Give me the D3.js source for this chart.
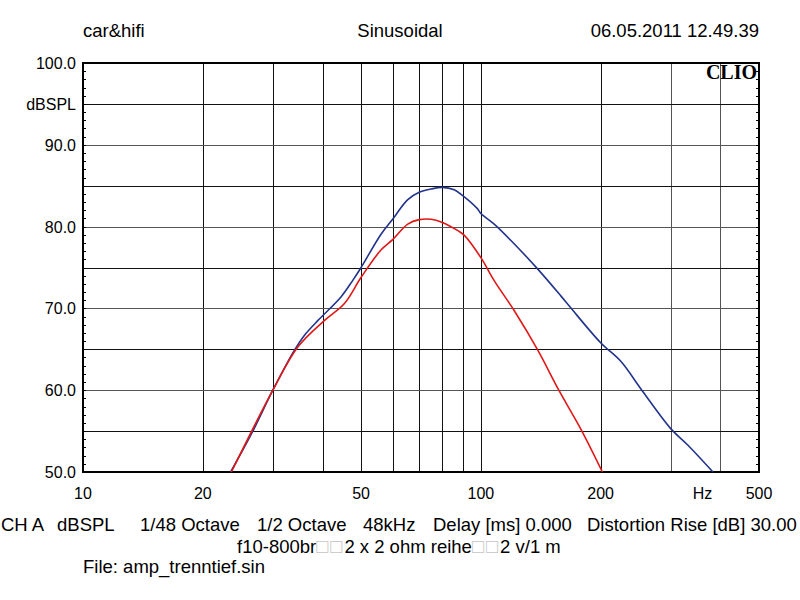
<!DOCTYPE html>
<html><head><meta charset="utf-8">
<script src="https://cdn.jsdelivr.net/npm/d3@7"></script>
<style>body{margin:0;background:#fff}svg{display:block}</style>
</head><body>
<script>
// ---- data ----
const blueFreq = [23.5,26.6,30,34,36,38.9,40,44.5,47.6,50,56,60,65.5,70,75,80,85.7,90,98,100,108,119,139,159,168,200,225,252,300,331,383];
const blueDb   = [50,54.8,60,64.9,66.7,68.5,69.1,71.4,73.4,75,79,80.9,83.3,84.2,84.6,84.8,84.5,83.8,82.2,81.6,80.3,78.3,74.8,71.5,70.1,65.8,63.5,60.2,55.3,53.3,50];
const redFreq  = [23.6,30,34.7,40.4,45.4,50,56,60,65.5,70,75,80,87.5,91,100,108,121,139,157,179,202];
const redDb    = [50,60,65.3,68.5,70.6,73.8,77.1,78.4,80.3,80.85,80.9,80.5,79.5,78.9,76.2,73.4,69.8,64.9,60,55.1,50];
const xGrid = [20,30,40,50,60,70,80,90,100,200,300,400];
const xTickVals = [10,20,50,100,200,500];
const xTickLabels = ["10","20","50","100","200","500"];
const yGrid = [55,60,65,70,75,80,85,90,95];
const yTickVals = [100,95,90,80,70,60,50];
const yTickLabels = ["100.0","dBSPL","90.0","80.0","70.0","60.0","50.0"];
const headerLeft = "car&hifi", headerMid = "Sinusoidal", headerRight = "06.05.2011 12.49.39";
const footer1 = ["CH A","dBSPL","1/48 Octave","1/2 Octave","48kHz","Delay [ms] 0.000","Distortion Rise [dB] 30.00"];
const footer2 = ["f10-800br","□□","2 x 2 ohm reihe","□□","2 v/1 m"];
const footer3 = "File: amp_trenntief.sin";

const SANS = "'Liberation Sans', Arial, sans-serif";
const W=800,H=600, L=83, R=759, T=63, B=472;
const svg = d3.select("body").append("svg").attr("width",W).attr("height",H)
  .style("font-family",SANS);
const x = d3.scaleLog().domain([10,500]).range([L,R]);
const y = d3.scaleLinear().domain([50,100]).range([B,T]);

const g = svg.append("g").attr("shape-rendering","crispEdges");
g.selectAll(".vg").data(xGrid).join("line")
  .attr("x1",d=>Math.round(x(d))+0.5).attr("x2",d=>Math.round(x(d))+0.5)
  .attr("y1",T).attr("y2",B).attr("stroke",d=>(d===300||d===400)?"#555":"#111").attr("stroke-width",1);
g.selectAll(".hg").data(yGrid).join("line")
  .attr("y1",d=>Math.round(y(d))+0.5).attr("y2",d=>Math.round(y(d))+0.5)
  .attr("x1",L).attr("x2",R).attr("stroke",d=>(d%10===0)?"#555":"#111").attr("stroke-width",1);

// minor ticks
const minor = d3.range(51,100);
g.selectAll(".ml").data(minor).join("line")
  .attr("x1",L).attr("x2",L+3).attr("y1",d=>Math.round(y(d))+0.5).attr("y2",d=>Math.round(y(d))+0.5).attr("stroke","#000");
g.selectAll(".mr").data(minor).join("line")
  .attr("x1",R-3).attr("x2",R).attr("y1",d=>Math.round(y(d))+0.5).attr("y2",d=>Math.round(y(d))+0.5).attr("stroke","#000");

// border
g.append("rect").attr("x",L).attr("y",T).attr("width",R-L).attr("height",B-T)
  .attr("fill","none").attr("stroke","#000").attr("stroke-width",2);

// curves
const line = d3.line().x(d=>x(d[0])).y(d=>y(d[1])).curve(d3.curveCatmullRom.alpha(0.5));
svg.append("path").datum(blueFreq.map((f,i)=>[f,blueDb[i]])).attr("d",line)
  .attr("fill","none").attr("stroke","#22348c").attr("stroke-width",1.6);
svg.append("path").datum(redFreq.map((f,i)=>[f,redDb[i]])).attr("d",line)
  .attr("fill","none").attr("stroke","#e01818").attr("stroke-width",1.6);

// y labels
svg.selectAll(".yl").data(yTickVals).join("text")
  .attr("x",L-7).attr("y",d=>y(d)+6).attr("text-anchor","end")
  .attr("font-size",16).attr("fill","#000").text((d,i)=>yTickLabels[i]);
// x labels
svg.selectAll(".xl").data(xTickVals).join("text")
  .attr("x",d=>x(d)).attr("y",499).attr("text-anchor","middle")
  .attr("font-size",16).attr("fill","#000").text((d,i)=>xTickLabels[i]);
svg.append("text").attr("x",x(400)-18).attr("y",499).attr("text-anchor","middle").attr("font-size",16).text("Hz");

// header
svg.append("text").attr("x",L).attr("y",37).attr("font-size",18.5).text(headerLeft);
svg.append("text").attr("x",400).attr("y",37).attr("text-anchor","middle").attr("font-size",18.5).text(headerMid);
svg.append("text").attr("x",R).attr("y",37).attr("text-anchor","end").attr("font-size",18.5).text(headerRight);

// CLIO logo
svg.append("text").attr("x",R-2).attr("y",79).attr("text-anchor","end")
  .style("font-family","'Liberation Serif','DejaVu Serif',serif").attr("font-weight","bold").attr("font-size",20).text("CLIO");

// footer
const f1x = [1,57,140,257,363,433,587];
svg.selectAll(".f1").data(footer1).join("text")
  .attr("x",(d,i)=>f1x[i]).attr("y",531).attr("font-size",18.5).text(d=>d);
const f2 = svg.append("text").attr("x",237).attr("y",553).attr("font-size",18.5);
footer2.forEach(s=>{
  const t = f2.append("tspan").text(s);
  if (s==="□□") t.attr("fill","#c4c4c4").attr("font-size",20).style("letter-spacing","2px");
});
svg.append("text").attr("x",L).attr("y",573).attr("font-size",18.5).text(footer3);
</script>
</body></html>
